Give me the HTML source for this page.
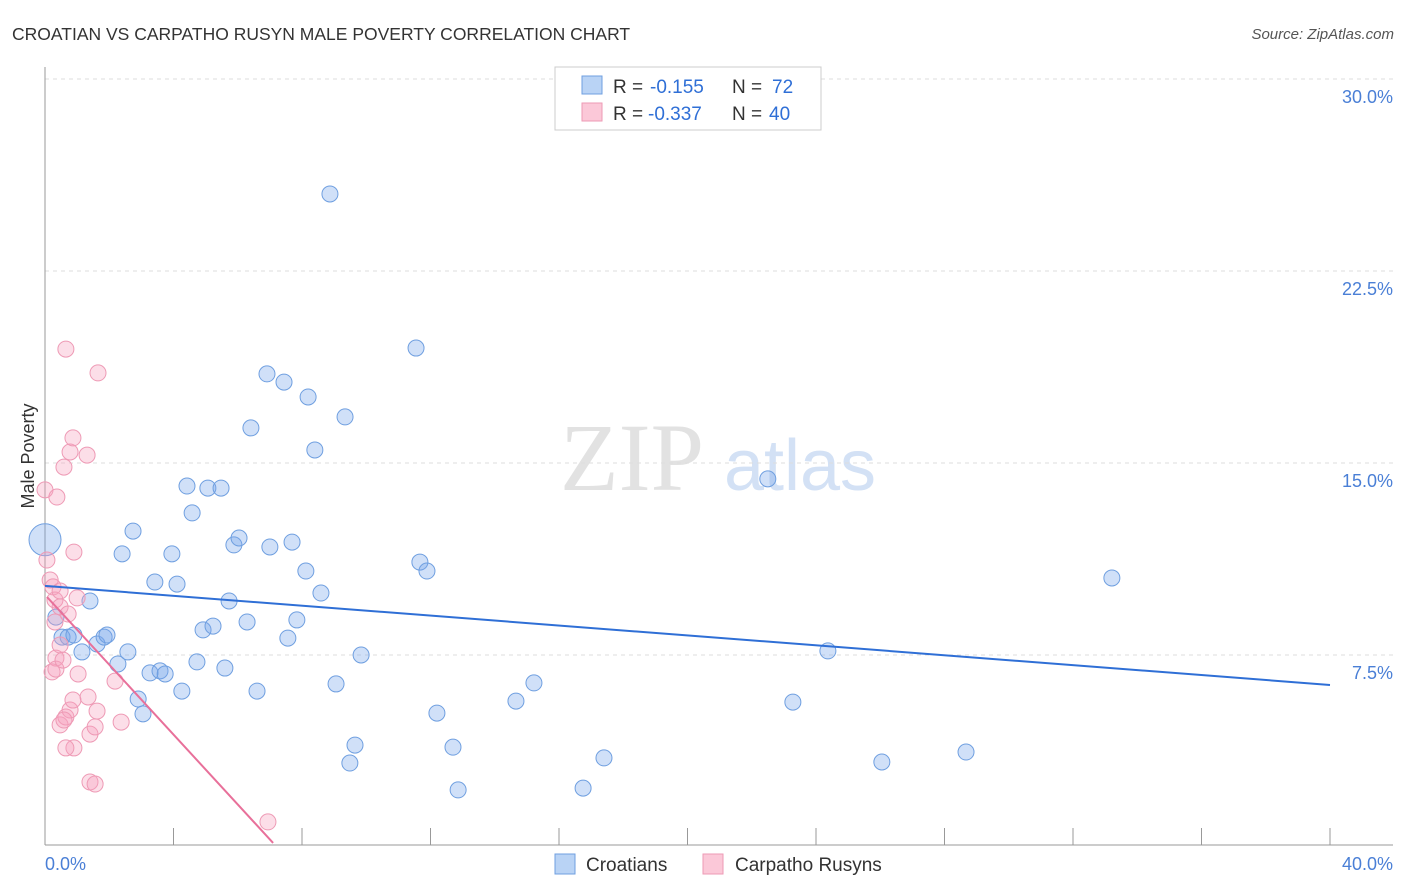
<!DOCTYPE html>
<html><head><meta charset="utf-8"><style>
body{margin:0;background:#fff;font-family:"Liberation Sans",sans-serif;}
svg{display:block}
</style></head><body>
<svg id="c" width="1406" height="892" viewBox="0 0 1406 892">
<text x="12" y="40" font-size="17.5" fill="#333">CROATIAN VS CARPATHO RUSYN MALE POVERTY CORRELATION CHART</text>
<text x="1394" y="39" font-size="15" fill="#555" font-style="italic" text-anchor="end">Source: ZipAtlas.com</text>
<text transform="translate(34,456) rotate(-90)" font-size="18" fill="#333" text-anchor="middle">Male Poverty</text>
<g><text x="632" y="490" font-size="96" fill="#e2e2e2" text-anchor="middle" font-family="Liberation Serif,serif">ZIP</text><text x="800" y="490" font-size="72" fill="#d3e1f5" text-anchor="middle">atlas</text></g>
<g id="grid"></g><g id="axes"></g><g id="pts"></g><g id="trend"></g>
<g>
<rect x="555" y="67" width="266" height="63" fill="#fff" stroke="#ccc"/>
<rect x="582" y="76" width="20" height="18" fill="#b9d3f5" stroke="#6f9fe0"/>
<rect x="582" y="103" width="20" height="18" fill="#fbc8d8" stroke="#ee9ab5"/>
<text x="613" y="93" font-size="19" fill="#333">R =</text>
<text x="650" y="93" font-size="19" fill="#2f6fd6">-0.155</text>
<text x="732" y="93" font-size="19" fill="#333">N =</text>
<text x="772" y="93" font-size="19" fill="#2f6fd6">72</text>
<text x="613" y="120" font-size="19" fill="#333">R =</text>
<text x="648" y="120" font-size="19" fill="#2f6fd6">-0.337</text>
<text x="732" y="120" font-size="19" fill="#333">N =</text>
<text x="769" y="120" font-size="19" fill="#2f6fd6">40</text>
</g>
<g>
<rect x="555" y="854" width="20" height="20" fill="#b9d3f5" stroke="#6f9fe0"/>
<text x="586" y="871" font-size="19" fill="#333">Croatians</text>
<rect x="703" y="854" width="20" height="20" fill="#fbc8d8" stroke="#ee9ab5"/>
<text x="735" y="871" font-size="19" fill="#333">Carpatho Rusyns</text>
</g>
</svg>
<script>
const croX=[0,.34,.53,.72,.9,1.15,1.4,1.62,1.84,1.93,2.27,2.4,2.58,2.74,2.9,3.05,3.27,3.42,3.58,3.74,3.95,4.11,4.26,4.42,4.58,4.73,4.92,5.07,5.23,5.48,5.6,5.73,5.88,6.04,6.29,6.41,6.6,6.91,7.0,7.44,7.56,7.69,7.84,8.12,8.19,8.4,8.59,8.87,9.06,9.34,9.49,9.65,9.84,11.55,11.67,11.89,12.2,12.7,12.86,14.66,15.22,16.75,17.4,22.5,23.28,24.37,26.05,28.67,33.21];
const croY=[12.0,8.98,8.2,8.2,8.28,7.62,9.61,7.93,8.2,8.28,7.15,11.45,7.62,12.34,5.78,5.2,6.8,10.35,6.88,6.76,11.45,10.27,6.09,14.1,13.05,7.23,8.48,14.02,8.63,14.02,6.99,9.61,11.8,12.07,8.79,16.37,6.09,18.48,11.72,18.16,8.16,11.91,8.87,10.78,17.58,15.51,9.92,25.51,6.37,16.8,3.28,3.98,7.5,19.49,11.13,10.78,5.23,3.9,2.23,5.7,6.41,2.3,3.48,14.38,5.66,7.66,3.32,3.71,10.51];
const rusX=[0,.06,.16,.25,.31,.37,.47,.31,.34,.22,.34,.47,.56,.65,.72,.78,.87,.9,1.0,.59,1.03,1.31,.9,.65,.47,.65,.78,.87,1.34,1.4,1.56,1.62,1.65,1.4,1.56,2.18,2.37,6.94,.47,.59];
const rusY=[13.95,11.21,10.43,10.16,9.65,13.67,9.38,8.79,7.38,6.84,6.95,7.89,7.3,19.45,9.1,15.43,15.98,11.52,9.73,14.84,6.76,15.31,3.87,3.87,4.77,5.08,5.35,5.74,5.86,4.41,4.69,5.31,18.52,2.54,2.46,6.48,4.88,0.98,10.0,4.96];
const yTicks=[7.5,15,22.5,30];
const yTickLabels=["7.5%","15.0%","22.5%","30.0%"];
const xTicks=[0,4,8,12,16,20,24,28,32,36,40];
const croTrend=[[0,10.2],[40,6.33]];
const rusTrend=[[0.06,9.77],[7.1,0.16]];
const sx=v=>45+v*32.125, sy=v=>847-v*25.6;
const NS="http://www.w3.org/2000/svg";
function mk(p,t,a){const e=document.createElementNS(NS,t);for(const k in a)e.setAttribute(k,a[k]);p.appendChild(e);return e;}
const grid=document.getElementById('grid'),axes=document.getElementById('axes'),pts=document.getElementById('pts'),tr=document.getElementById('trend');
yTicks.forEach((v,i)=>{
 const l=mk(grid,'line',{x1:45,x2:1393,y1:sy(v),y2:sy(v),stroke:'#ddd','stroke-dasharray':'4,4'});
 
 
 const t=mk(axes,'text',{x:1393,y:sy(v)+24,'font-size':18,fill:'#4a7fd6','text-anchor':'end'});
 t.textContent=yTickLabels[i];
 
 
});
const ya=mk(axes,'line',{x1:45,x2:45,y1:67,y2:845,stroke:'#999'});


const xa=mk(axes,'line',{x1:45,x2:1393,y1:845,y2:845,stroke:'#999'});


xTicks.forEach(v=>{
 const l=mk(axes,'line',{x1:sx(v),x2:sx(v),y1:828,y2:845,stroke:'#999'});
 
 
});
[[0,'0.0%','start',45],[40,'40.0%','end',1393]].forEach(d=>{
 const t=mk(axes,'text',{x:d[3],y:870,'font-size':18,fill:'#4a7fd6','text-anchor':d[2]});
 t.textContent=d[1];
 
 
});
croX.forEach((x,i)=>{
 const c=mk(pts,'circle',{cx:sx(x),cy:sy(croY[i]),r:i===0?16:8,fill:'rgba(120,165,235,0.35)',stroke:'#6f9fe0','stroke-width':1});
 
 
});
rusX.forEach((x,i)=>{
 const c=mk(pts,'circle',{cx:sx(x),cy:sy(rusY[i]),r:8,fill:'rgba(245,160,190,0.35)',stroke:'#ee9ab5','stroke-width':1});
 
 
});
const l1=mk(tr,'line',{x1:sx(croTrend[0][0]),y1:sy(croTrend[0][1]),x2:sx(croTrend[1][0]),y2:sy(croTrend[1][1]),stroke:'#2f6fd6','stroke-width':2});


const l2=mk(tr,'line',{x1:sx(rusTrend[0][0]),y1:sy(rusTrend[0][1]),x2:sx(rusTrend[1][0]),y2:sy(rusTrend[1][1]),stroke:'#e8709a','stroke-width':2});


</script>
</body></html>
